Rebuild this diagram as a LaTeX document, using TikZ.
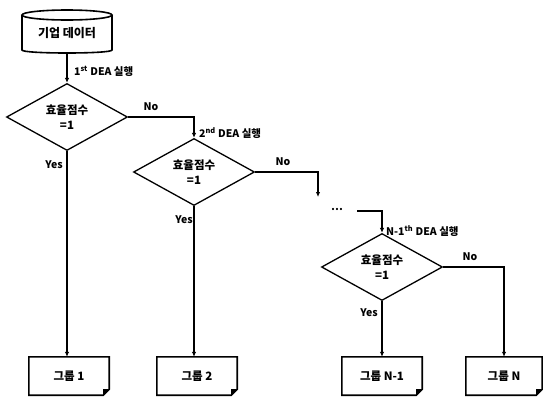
\documentclass[tikz,border=0pt]{standalone}
\usepackage{fontspec}
\setmainfont{Noto Sans CJK KR}
\usetikzlibrary{shapes.geometric,arrows.meta}
\tikzset{
  conn/.style={line width=1.2pt,-{Latex[length=5pt,width=4.5pt]}},
  decision/.style={diamond,draw,line width=1.3pt,minimum width=121pt,minimum height=56pt,inner sep=0pt,align=center,font=\fontsize{11.5}{15}\selectfont\bfseries},
  group/.style={minimum width=80pt,minimum height=38pt,inner sep=0pt,font=\fontsize{11.5}{13}\selectfont\bfseries},
  lbl/.style={font=\fontsize{10.5}{12}\selectfont\bfseries,inner sep=1pt},
  boxline/.style={line width=1.6pt,line join=miter}
}
\begin{document}
\begin{tikzpicture}[x=1pt,y=-1pt]
\useasboundingbox (0,0) rectangle (543,397);
% database
\node[font=\fontsize{12}{14}\selectfont\bfseries] (db) at (67,33) {기업 데이터};
\draw[boxline] (22,15) -- (22,50) .. controls (22,54) and (112,54) .. (112,50) -- (112,15);
\draw[boxline] (67,15) ellipse [x radius=45pt, y radius=5pt];
\coordinate (dbout) at (67,52);
% decisions
\node[decision] (d1) at (67,117) {효율점수\\=1};
\node[decision] (d2) at (194,172) {효율점수\\=1};
\node[decision] (d3) at (382,267) {효율점수\\=1};
% groups
\node[group] (g1) at (69,376) {그룹 1};
\node[group] (g2) at (197,376) {그룹 2};
\node[group] (g3) at (382,376) {그룹 N-1};
\node[group,minimum width=76pt] (g4) at (504,376) {그룹 N};
\foreach \g in {g1,g2,g3,g4}{
  \draw[boxline] (\g.north west) -- (\g.north east) -- ([yshift=6pt]\g.south east) -- ([xshift=-6pt]\g.south east) -- (\g.south west) -- cycle;
  \fill ([yshift=6pt]\g.south east) -- ([xshift=-6pt]\g.south east) -- ([xshift=-6pt,yshift=6pt]\g.south east) -- cycle;
}
% connectors
\draw[conn] (dbout) -- (d1.north);
\node[lbl,anchor=west] (l1) at (73,71) {1\textsuperscript{st} DEA 실행};
\draw[conn] (d1.east) -| (d2.north);
\node[lbl] (n1) at (151,107) {No};
\node[lbl,anchor=west] (l2) at (198,133) {2\textsuperscript{nd} DEA 실행};
\coordinate (c2) at (318,197);
\draw[conn] (d2.east) -| (c2);
\node[lbl] (n2) at (283,162) {No};
\node[lbl] (dots) at (337,209) {\dots};
\coordinate (c3) at (357,211);
\draw[conn] (c3) -| (d3.north);
\node[lbl,anchor=west] (l3) at (385,231) {N-1\textsuperscript{th} DEA 실행};
\draw[conn] (d3.east) -| (g4.north);
\node[lbl] (n3) at (470,257) {No};
\draw[conn] (d1.south) -- (d1.south |- g1.north);
\node[lbl] (y1) at (54,165) {Yes};
\draw[conn] (d2.south) -- (d2.south |- g2.north);
\node[lbl] (y2) at (184,220) {Yes};
\draw[conn] (d3.south) -- (d3.south |- g3.north);
\node[lbl] (y3) at (369,313) {Yes};
\end{tikzpicture}
\end{document}
